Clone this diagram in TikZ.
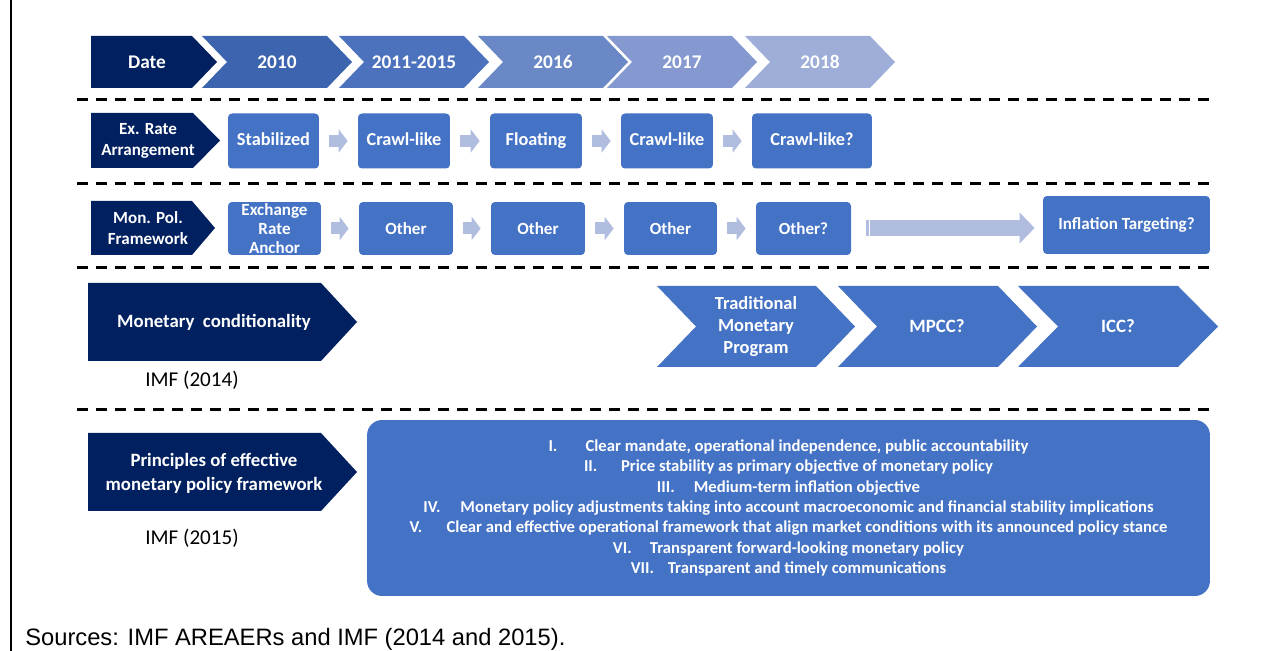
\documentclass[tikz,border=0pt]{standalone}
\usepackage{fontspec}
\setmainfont{Carlito}
\newfontfamily\arialfont{Liberation Sans}
\usetikzlibrary{arrows.meta,positioning}

\definecolor{navy}{HTML}{002060}
\definecolor{boxblue}{HTML}{4472C4}
\definecolor{pale}{HTML}{B0BDDF}
\definecolor{yrA}{HTML}{3D64AF}
\definecolor{yrB}{HTML}{4C72BE}
\definecolor{yrC}{HTML}{6A88C6}
\definecolor{yrD}{HTML}{8599D0}
\definecolor{yrE}{HTML}{9EAED9}

% pentagon: left, corner, tip, top, bottom, colour
\newcommand{\headshape}[6]{\fill[#6] (#1,#4) -- (#2,#4) -- (#3,{(#4+#5)/2}) -- (#2,#5) -- (#1,#5) -- cycle;}
% chevron: left, corner, tip, top, bottom, colour
\newcommand{\chevshape}[6]{\fill[#6] (#1,#4) -- (#2,#4) -- (#3,{(#4+#5)/2}) -- (#2,#5) -- (#1,#5) -- ({(#1)+(#3)-(#2)},{(#4+#5)/2}) -- cycle;}

\tikzset{
  hdtext/.style={text=white, font=\bfseries\fontsize{11}{13}\selectfont},
  labtext/.style={text=white, align=center, font=\bfseries\fontsize{9.7}{11.9}\selectfont},
  bigtext/.style={text=white, align=center, font=\bfseries\fontsize{10.7}{13.6}\selectfont},
  stagebox/.style={fill=boxblue, rounded corners=0.08cm, text=white, align=center, inner sep=0pt,
    minimum height=1.1cm, font=\bfseries\fontsize{10.4}{12}\selectfont},
  polbox/.style={stagebox, minimum height=1.06cm, font=\bfseries\fontsize{9.7}{10.8}\selectfont},
  steparrow/.style={pale, line width=0.24cm, -{Triangle[length=0.18cm,width=0.46cm]},
    shorten <=0.2cm, shorten >=0.2cm},
  sepline/.style={line width=0.06cm, dash pattern=on 0.22cm off 0.16cm},
  reftext/.style={font=\fontsize{12}{14}\selectfont}
}

\newcommand{\numbox}[1]{\makebox[0.74cm][l]{#1}}

\begin{document}
\begin{tikzpicture}[x=0.02cm, y=-0.02cm]
  \useasboundingbox (0,0) rectangle (1271,651);
  \draw[line width=0.04cm] (11,0) -- (11,651);

  % dates
  \headshape{91}{192}{217}{36}{88}{navy}
  \node[hdtext] (date) at (147,62) {Date};
  \foreach \l/\t/\c [count=\i] in {202/2010/yrA, 339/2011-2015/yrB, 478/2016/yrC, 607/2017/yrD, 745/2018/yrE} {
    \chevshape{\l}{\l+125}{\l+150}{36}{88}{\c}
    \node[hdtext] (y\i) at (\l+75,62) {\t};
  }

  \foreach \y in {100,184,268,410}
    \draw[sepline] (77,\y) -- (1213,\y);

  % exchange rate arrangement
  \headshape{91}{193}{220}{113}{168}{navy}
  \node[labtext] (exr) at (148,141) {Ex. Rate\\Arrangement};
  \node[stagebox, minimum width=1.82cm] (e1) at (273.5,141) {\strut Stabilized};
  \node[stagebox, minimum width=1.84cm] (e2) at (404,141) {\strut Crawl-like};
  \node[stagebox, minimum width=1.84cm] (e3) at (536,141) {\strut Floating};
  \node[stagebox, minimum width=1.84cm] (e4) at (667,141) {\strut Crawl-like};
  \node[stagebox, minimum width=2.4cm] (e5) at (812,141) {\strut Crawl-like?};
  \foreach \a/\b in {e1/e2,e2/e3,e3/e4,e4/e5}
    \draw[steparrow] (\a) -- (\b);

  % monetary policy framework
  \headshape{91}{192}{215}{201}{255}{navy}
  \node[labtext] (mpf) at (148,228) {Mon. Pol.\\Framework};
  \node[polbox, minimum width=1.86cm] (m1) at (274.5,228.5) {Exchange\\Rate\\Anchor};
  \node[polbox, minimum width=1.88cm] (m2) at (406,228.5) {Other};
  \node[polbox, minimum width=1.88cm] (m3) at (538,228.5) {Other};
  \node[polbox, minimum width=1.86cm] (m4) at (670.5,228.5) {Other};
  \node[polbox, minimum width=1.9cm] (m5) at (803.5,228.5) {Other?};
  \node[polbox, minimum width=3.34cm, minimum height=1.16cm] (m6) at (1126.5,225) {Inflation Targeting?};
  \foreach \a/\b in {m1/m2,m2/m3,m3/m4,m4/m5}
    \draw[steparrow] (\a) -- (\b);
  \draw[pale, line width=0.32cm, -{Triangle[length=0.3cm,width=0.6cm]}, shorten <=0.3cm, shorten >=0.16cm]
    (m5.east |- 0,228) -- (m6.west |- 0,228);
  \draw[white, line width=0.02cm] (865,219) -- (865,237);
  \draw[white, line width=0.02cm] (869,219) -- (869,237);

  % monetary conditionality
  \headshape{88}{321}{357}{283}{361}{navy}
  \node[bigtext] (mcond) at (214,322) {Monetary\ \ conditionality};
  \node[reftext] (imf14) at (192,380) {IMF (2014)};
  \chevshape{657}{816}{855}{286}{367}{boxblue}
  \node[bigtext, font=\bfseries\fontsize{10.5}{12.5}\selectfont] (tmp) at (756,327) {Traditional\\Monetary\\Program};
  \chevshape{838}{998}{1037}{286}{367}{boxblue}
  \node[bigtext] (mpcc) at (937,326) {MPCC?};
  \chevshape{1018}{1178}{1218}{286}{367}{boxblue}
  \node[bigtext] (icc) at (1118,326) {ICC?};

  % principles
  \headshape{88}{321}{357}{433}{511}{navy}
  \node[bigtext] (pemp) at (214,473) {Principles of effective\\monetary policy framework};
  \node[reftext] (imf15) at (192,538) {IMF (2015)};
  \node[fill=boxblue, rounded corners=0.3cm, minimum width=16.86cm, minimum height=3.52cm,
        text=white, align=center, inner sep=0pt, font=\bfseries\fontsize{9.5}{11.6}\selectfont] (plist) at (788.5,508) {%
    \numbox{I.}Clear mandate, operational independence, public accountability\\
    \numbox{II.}Price stability as primary objective of monetary policy\\
    \numbox{III.}Medium-term inflation objective\\
    \numbox{IV.}Monetary policy adjustments taking into account macroeconomic and financial stability implications\\
    \numbox{V.}Clear and effective operational framework that align market conditions with its announced policy stance\\
    \numbox{VI.}Transparent forward-looking monetary policy\\
    \numbox{VII.}Transparent and timely communications};

  \node[anchor=base west, inner sep=0pt, font=\arialfont\fontsize{13.5}{16}\selectfont] (src) at (25,645)
    {Sources: IMF AREAERs and IMF (2014 and 2015).};
\end{tikzpicture}
\end{document}
